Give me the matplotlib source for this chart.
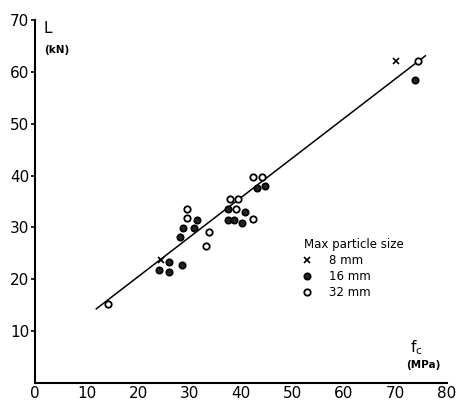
import matplotlib
matplotlib.use("Agg")
import matplotlib.pyplot as plt

# ----------------------------------------------------------------------------
# DATA
# ----------------------------------------------------------------------------
fc_8mm = [24.4, 70.0]
L_8mm = [23.8, 62.0]

fc_16mm = [28.2, 28.7, 30.9, 31.4, 26.0, 28.5, 24.0, 26.1,
           37.4, 37.4, 38.6, 40.1, 40.8, 43.2, 44.6, 73.8]
L_16mm = [28.2, 29.8, 29.8, 31.5, 23.3, 22.7, 21.8, 21.4,
          33.5, 31.5, 31.4, 30.8, 32.9, 37.6, 37.9, 58.4]

fc_32mm = [14.2, 29.5, 29.5, 33.8, 33.2, 37.8, 39.4, 39.1,
           42.3, 42.4, 44.0, 74.3]
L_32mm = [15.2, 33.5, 31.8, 29.1, 26.5, 35.4, 35.4, 33.5,
          31.6, 39.7, 39.7, 62.0]

# fitted line end points
fit_fc = [11.9, 75.8]
fit_L = [14.3, 63.1]

x_ticks = [0, 10, 20, 30, 40, 50, 60, 70, 80]
y_ticks = [10, 20, 30, 40, 50, 60, 70]

# ----------------------------------------------------------------------------
# PLOT
# ----------------------------------------------------------------------------
plt.rcParams["font.family"] = ["DejaVu Sans"]
fig = plt.figure(figsize=(4.57, 4.05), dpi=100)
ax = fig.add_axes([35 / 457, 22 / 405, 412 / 457, 363 / 405])

ax.plot(fit_fc, fit_L, color="black", lw=1.1, zorder=2)

ax.plot(fc_8mm, L_8mm, "x", color="black", ms=5, mew=1.2, zorder=3, label="8 mm")
ax.plot(fc_16mm, L_16mm, "o", color="black", mfc="#222222", mec="black",
        ms=4.6, mew=1.2, zorder=3, label="16 mm")
ax.plot(fc_32mm, L_32mm, "o", color="black", mfc="white", mec="black",
        ms=4.6, mew=1.3, zorder=3, label="32 mm")

ax.set_xlim(0, 80)
ax.set_ylim(0, 70)
ax.set_xticks(x_ticks)
ax.set_yticks(y_ticks)
ax.tick_params(axis="y", direction="out", length=3, width=1.2, pad=1, labelsize=11)
ax.tick_params(axis="x", length=0, pad=2, labelsize=11)
for s in ["top", "right"]:
    ax.spines[s].set_visible(False)
for s in ["left", "bottom"]:
    ax.spines[s].set_linewidth(1.5)

# axis titles placed inside the axes like the original
ax.text(1.7, 68.3, "L", fontsize=11, va="center", ha="left")
ax.text(1.7, 64.2, "(kN)", fontsize=7.5, fontweight="bold", va="center", ha="left")
ax.text(72.8, 6.9, "f$_\\mathregular{c}$", fontsize=11, va="center", ha="left")
ax.text(72.0, 3.4, "(MPa)", fontsize=7.5, fontweight="bold", va="center", ha="left")

leg = ax.legend(loc="upper left", bbox_to_anchor=(0.638, 0.415), frameon=False,
                title="Max particle size", fontsize=8.5, title_fontsize=8.5,
                borderpad=0, handlelength=0.6, handletextpad=1.5,
                labelspacing=0.25, numpoints=1, alignment="left")

fig.savefig("out.png", dpi=100)
